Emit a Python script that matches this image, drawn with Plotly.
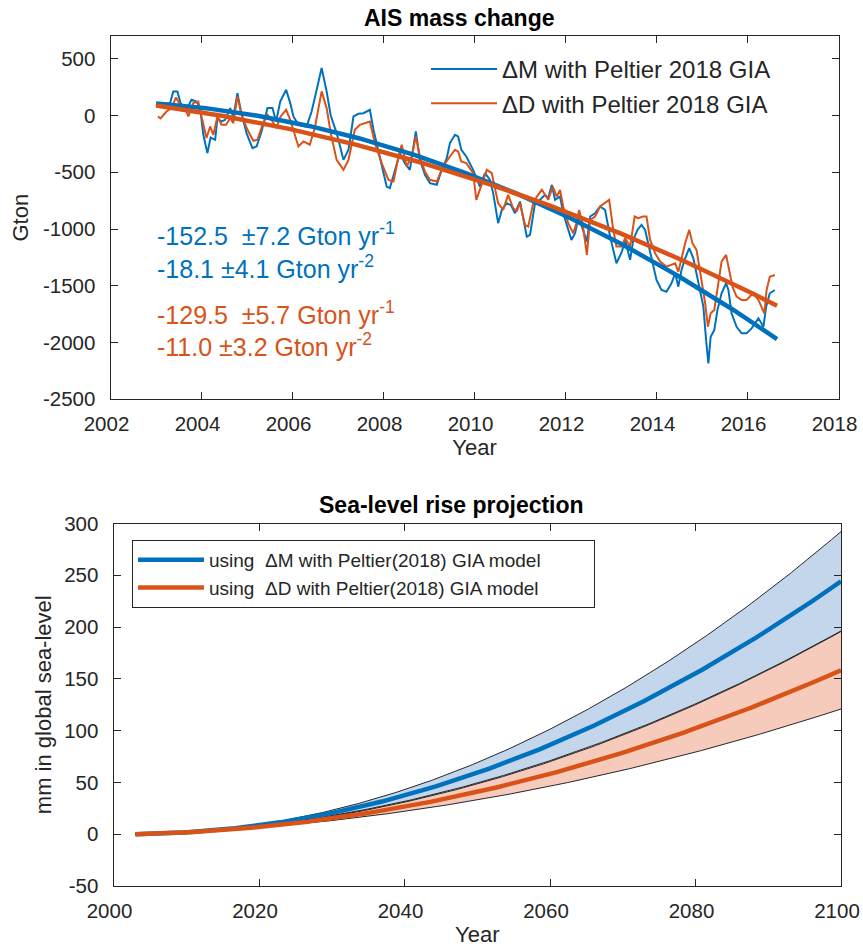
import numpy as np
import plotly.graph_objects as go

FONT = "Liberation Sans, Arial, Helvetica, sans-serif"
TXT = "#262626"
BLUE = "#0072BD"
ORANGE = "#D95319"
BLUE_FILL = "#C3D6EC"
ORANGE_FILL = "#F6CBBB"

# ---- AIS mass anomaly (Gt), Peltier 2018 GIA correction ----
dm_year = [2003.04, 2003.31, 2003.38, 2003.47, 2003.54, 2003.67, 2003.78, 2003.89, 2003.97, 2004.04,
           2004.13, 2004.20, 2004.30, 2004.35, 2004.44, 2004.52, 2004.63, 2004.70, 2004.79, 2004.86,
           2004.99, 2005.12, 2005.21, 2005.32, 2005.45, 2005.56, 2005.64, 2005.73, 2005.86, 2005.95,
           2006.02, 2006.13, 2006.31, 2006.42, 2006.49, 2006.64, 2006.75, 2006.84, 2006.97, 2007.12,
           2007.23, 2007.34, 2007.45, 2007.56, 2007.63, 2007.70, 2007.78, 2007.92, 2008.07, 2008.14,
           2008.25, 2008.36, 2008.47, 2008.58, 2008.71, 2008.80, 2008.91, 2009.02, 2009.17, 2009.28,
           2009.39, 2009.46, 2009.57, 2009.64, 2009.71, 2009.82, 2009.97, 2010.12, 2010.23, 2010.34,
           2010.41, 2010.52, 2010.60, 2010.71, 2010.80, 2010.89, 2011.00, 2011.07, 2011.15, 2011.22,
           2011.29, 2011.33, 2011.44, 2011.55, 2011.62, 2011.70, 2011.77, 2011.88, 2011.95, 2012.06,
           2012.13, 2012.21, 2012.28, 2012.36, 2012.47, 2012.54, 2012.65, 2012.76, 2012.87, 2012.98,
           2013.12, 2013.24, 2013.31, 2013.42, 2013.49, 2013.58, 2013.67, 2013.75, 2013.89, 2014.00,
           2014.11, 2014.22, 2014.33, 2014.41, 2014.48, 2014.55, 2014.63, 2014.72, 2014.81, 2014.88,
           2014.96, 2015.03, 2015.09, 2015.14, 2015.19, 2015.27, 2015.34, 2015.43, 2015.53, 2015.58,
           2015.65, 2015.76, 2015.87, 2015.98, 2016.09, 2016.24, 2016.35, 2016.41, 2016.49, 2016.60]
dm_gton = [95, 109, 212, 212, 109, 50, 138, 123, 65, -170,
           -332, -194, -214, -23, -53, -38, 65, -14, 197, 50,
           -155, -288, -273, -141, 65, 65, -53, 123, 227, 109,
           -9, -82, -97, 35, 153, 418, 212, 0, -155, -391,
           -302, -9, 15, 20, 35, 50, -126, -361, -626, -640,
           -479, -332, -420, -479, -141, -391, -523, -596, -611, -479,
           -376, -243, -170, -185, -302, -361, -479, -626, -508, -567,
           -684, -949, -832, -773, -790, -861, -758, -890, -1067, -1052,
           -890, -773, -743, -699, -728, -611, -743, -714, -861, -993,
           -1096, -1037, -905, -979, -1111, -890, -861, -802, -832, -1067,
           -1302, -1199, -1096, -1272, -1096, -1008, -964, -1008, -1272, -1449,
           -1537, -1552, -1478, -1390, -1508, -1361, -1258, -1169, -1258, -1390,
           -1522, -1684, -1978, -2183, -1949, -1890, -1713, -1566, -1478, -1537,
           -1742, -1861, -1919, -1919, -1875, -1787, -1861, -1684, -1566, -1537]

dd_year = [2003.04, 2003.10, 2003.23, 2003.34, 2003.44, 2003.53, 2003.64, 2003.71, 2003.82, 2003.93,
           2004.00, 2004.11, 2004.19, 2004.26, 2004.35, 2004.44, 2004.54, 2004.63, 2004.70, 2004.79,
           2004.88, 2005.01, 2005.14, 2005.23, 2005.34, 2005.45, 2005.54, 2005.64, 2005.74, 2005.86,
           2005.95, 2006.05, 2006.13, 2006.24, 2006.38, 2006.49, 2006.64, 2006.75, 2006.84, 2006.97,
           2007.12, 2007.23, 2007.37, 2007.48, 2007.59, 2007.70, 2007.81, 2007.96, 2008.11, 2008.22,
           2008.33, 2008.40, 2008.51, 2008.62, 2008.71, 2008.80, 2008.91, 2009.02, 2009.17, 2009.31,
           2009.46, 2009.57, 2009.64, 2009.71, 2009.82, 2009.97, 2010.04, 2010.16, 2010.27, 2010.38,
           2010.45, 2010.52, 2010.63, 2010.74, 2010.85, 2010.93, 2011.00, 2011.11, 2011.18, 2011.29,
           2011.37, 2011.48, 2011.55, 2011.62, 2011.72, 2011.81, 2011.88, 2011.95, 2012.06, 2012.17,
           2012.24, 2012.30, 2012.38, 2012.47, 2012.54, 2012.65, 2012.76, 2012.87, 2012.96, 2013.05,
           2013.12, 2013.24, 2013.31, 2013.42, 2013.52, 2013.60, 2013.70, 2013.78, 2013.86, 2013.97,
           2014.08, 2014.22, 2014.33, 2014.41, 2014.48, 2014.55, 2014.63, 2014.72, 2014.79, 2014.88,
           2014.97, 2015.07, 2015.13, 2015.19, 2015.27, 2015.34, 2015.43, 2015.53, 2015.60, 2015.67,
           2015.76, 2015.87, 2015.98, 2016.12, 2016.24, 2016.37, 2016.42, 2016.49, 2016.60]
dd_gton = [-9, -25, 35, 65, 159, 94, 65, -9, 109, 123,
           -9, -199, -97, -170, -9, -82, -82, -23, -68, 168,
           6, -126, -223, -214, -82, 6, -38, -111, -9, 50,
           -38, -170, -273, -229, -258, -111, 212, 65, -155, -391,
           -479, -391, -126, -82, -67, -53, -243, -420, -567, -582,
           -361, -258, -450, -361, -185, -361, -494, -567, -582, -450,
           -361, -302, -317, -405, -420, -508, -743, -596, -479, -508,
           -655, -773, -832, -699, -817, -840, -773, -964, -979, -773,
           -714, -655, -699, -743, -626, -714, -655, -802, -949, -1037,
           -949, -832, -964, -1228, -920, -890, -802, -773, -743, -1008,
           -1155, -1155, -1081, -1155, -890, -905, -890, -890, -1096, -1214,
           -1287, -1332, -1317, -1302, -1376, -1258, -1125, -1008, -1125, -1184,
           -1390, -1654, -1861, -1742, -1713, -1508, -1287, -1228, -1361, -1508,
           -1596, -1625, -1625, -1566, -1625, -1742, -1537, -1420, -1405]

# ---- quadratic trend parameters: M(t) = c + b*(t-t0) + a/2*(t-t0)^2 ----
series_label = ["ΔM", "ΔD"]
trend_rate = [-152.5, -129.5]        # Gt / yr
trend_rate_err = [7.2, 5.7]
trend_accel = [-18.1, -11.0]         # Gt / yr^2
trend_accel_err = [4.1, 3.2]
trend_offset = [-514.0, -542.0]      # Gt at the reference epoch
trend_epoch = 2009.85
trend_span = [2003.0, 2016.65]

# ---- sea-level projection settings ----
proj_span = [2003.0, 2100.0]
gt_per_mm = 360.0                    # Gt of ice per mm of global sea level

# ---- axis ticks ----
top_xticks = [2002, 2004, 2006, 2008, 2010, 2012, 2014, 2016, 2018]
top_yticks = [-2500, -2000, -1500, -1000, -500, 0, 500]
bot_xticks = [2000, 2020, 2040, 2060, 2080, 2100]
bot_yticks = [-50, 0, 50, 100, 150, 200, 250, 300]

W, H = 863, 947
NBSP = "\u00a0"


def px(x):
    return x / W


def py(y):
    return 1 - y / H


def trend(t, c, b, a):
    dt = t - trend_epoch
    return c + b * dt + 0.5 * a * dt ** 2


def sea_level(t, b, a):
    # extrapolate the quadratic mass loss from the projection start and convert to mm
    ts = proj_span[0]
    b_start = b + a * (ts - trend_epoch)
    dt = t - ts
    return -(b_start * dt + 0.5 * a * dt ** 2) / gt_per_mm


fig = go.Figure()

# --- top panel: raw series ---
fig.add_trace(go.Scatter(x=dm_year, y=dm_gton, mode="lines", line=dict(color=BLUE, width=2),
                         name=f"{series_label[0]} with Peltier 2018 GIA", legend="legend",
                         xaxis="x", yaxis="y"))
fig.add_trace(go.Scatter(x=dd_year, y=dd_gton, mode="lines", line=dict(color=ORANGE, width=2),
                         name=f"{series_label[1]} with Peltier 2018 GIA", legend="legend",
                         xaxis="x", yaxis="y"))

# --- top panel: quadratic trends ---
t_fit = np.linspace(trend_span[0], trend_span[1], 200)
for i, col in enumerate([BLUE, ORANGE]):
    fig.add_trace(go.Scatter(x=t_fit, y=trend(t_fit, trend_offset[i], trend_rate[i], trend_accel[i]),
                             mode="lines", line=dict(color=col, width=4.5), showlegend=False,
                             hoverinfo="skip", xaxis="x", yaxis="y"))

# --- bottom panel: projections with uncertainty envelopes ---
t_proj = np.linspace(proj_span[0], proj_span[1], 300)
for i, (col, fill) in enumerate([(BLUE, BLUE_FILL), (ORANGE, ORANGE_FILL)]):
    b, a = trend_rate[i], trend_accel[i]
    db, da = trend_rate_err[i], trend_accel_err[i]
    lo = sea_level(t_proj, b + db, a + da)
    hi = sea_level(t_proj, b - db, a - da)
    mid = sea_level(t_proj, b, a)
    fig.add_trace(go.Scatter(x=t_proj, y=lo, mode="lines", line=dict(color="#111111", width=0.9),
                             showlegend=False, hoverinfo="skip", xaxis="x2", yaxis="y2"))
    fig.add_trace(go.Scatter(x=t_proj, y=hi, mode="lines", line=dict(color="#111111", width=0.9),
                             fill="tonexty", fillcolor=fill, showlegend=False, hoverinfo="skip",
                             xaxis="x2", yaxis="y2"))
    fig.add_trace(go.Scatter(x=t_proj, y=mid, mode="lines", line=dict(color=col, width=4.5),
                             name=f"using{NBSP * 2}{series_label[i]} with Peltier(2018) GIA model"
                                  + NBSP * 9,
                             legend="legend2", xaxis="x2", yaxis="y2"))

axis_common = dict(showline=True, linecolor=TXT, linewidth=1, mirror="ticks", ticks="inside",
                   ticklen=7, tickwidth=1, tickcolor=TXT, showgrid=False, zeroline=False,
                   automargin=False, ticklabeloverflow="allow",
                   tickfont=dict(family=FONT, size=20.5, color=TXT))

fig.update_layout(
    width=W, height=H, autosize=False,
    margin=dict(l=0, r=0, t=0, b=0),
    paper_bgcolor="white", plot_bgcolor="white",
    font=dict(family=FONT, color=TXT),
    xaxis=dict(axis_common, domain=[px(110.5), px(838.5)], range=[2002, 2018], anchor="y",
               tickvals=top_xticks, ticktext=[str(v) for v in top_xticks], ticklabelstandoff=6,
               ticklabelshift=-4,
               title=dict(text="Year", font=dict(family=FONT, size=22, color=TXT), standoff=4)),
    yaxis=dict(axis_common, domain=[py(399.3), py(36)], range=[-2500, 700], anchor="x",
               tickvals=top_yticks, ticktext=[str(v) for v in top_yticks], ticklabelstandoff=10,
               title=dict(text="Gton", font=dict(family=FONT, size=22, color=TXT), standoff=8)),
    xaxis2=dict(axis_common, domain=[px(113.5), px(841)], range=[2000, 2100], anchor="y2",
                tickvals=bot_xticks, ticktext=[str(v) for v in bot_xticks], ticklabelstandoff=6,
                ticklabelshift=-4,
                title=dict(text="Year", font=dict(family=FONT, size=22, color=TXT), standoff=8)),
    yaxis2=dict(axis_common, domain=[py(886), py(523.5)], range=[-50, 300], anchor="x2",
                tickvals=bot_yticks, ticktext=[str(v) for v in bot_yticks], ticklabelstandoff=10,
                title=dict(text="mm in global sea-level", font=dict(family=FONT, size=22, color=TXT),
                           standoff=6)),
    legend=dict(x=px(426), y=py(47), xanchor="left", yanchor="top", bgcolor="rgba(0,0,0,0)",
                borderwidth=0, itemwidth=66, traceorder="normal",
                font=dict(family=FONT, size=24, color=TXT), tracegroupgap=0),
    legend2=dict(x=px(132), y=py(540), xanchor="left", yanchor="top", bgcolor="white",
                 bordercolor=TXT, borderwidth=1, itemwidth=66, traceorder="normal",
                 font=dict(family=FONT, size=19, color=TXT), tracegroupgap=0),
    showlegend=True,
)

# panel titles
fig.add_annotation(x=px(459), y=py(18), xref="paper", yref="paper", text="<b>AIS mass change</b>",
                   showarrow=False, xanchor="center", yanchor="middle",
                   font=dict(family=FONT, size=23, color="black"))
fig.add_annotation(x=px(451), y=py(505), xref="paper", yref="paper",
                   text="<b>Sea-level rise projection</b>", showarrow=False,
                   xanchor="center", yanchor="middle", font=dict(family=FONT, size=23, color="black"))

# trend coefficients
rows = [
    (234, BLUE, f"{trend_rate[0]:.1f}{NBSP * 2}±{trend_rate_err[0]:.1f} Gton yr<sup>-1</sup>"),
    (267, BLUE, f"{trend_accel[0]:.1f} ±{trend_accel_err[0]:.1f} Gton yr<sup>-2</sup>"),
    (313, ORANGE, f"{trend_rate[1]:.1f}{NBSP * 2}±{trend_rate_err[1]:.1f} Gton yr<sup>-1</sup>"),
    (345, ORANGE, f"{trend_accel[1]:.1f} ±{trend_accel_err[1]:.1f} Gton yr<sup>-2</sup>"),
]
for ypix, col, txt in rows:
    fig.add_annotation(x=px(155), y=py(ypix), xref="paper", yref="paper", text=txt,
                       showarrow=False, xanchor="left", yanchor="middle",
                       font=dict(family=FONT, size=25, color=col))

fig.write_html("out.html")
